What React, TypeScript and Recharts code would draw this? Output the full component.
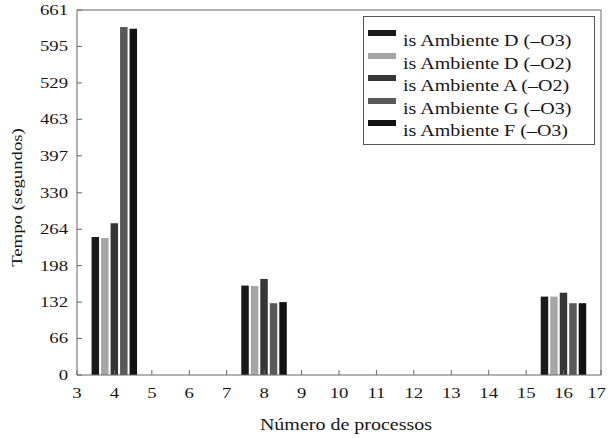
import { BarChart, Bar, XAxis, YAxis, ReferenceLine } from 'recharts';

const processos = [4, 8, 16];
const ambienteD_O3 = [250, 162, 142];
const ambienteD_O2 = [248, 161, 142];
const ambienteA_O2 = [275, 174, 149];
const ambienteG_O3 = [630, 130, 130];
const ambienteF_O3 = [627, 132, 130];

const seriesNames = [
	'is Ambiente D (–O3)',
	'is Ambiente D (–O2)',
	'is Ambiente A (–O2)',
	'is Ambiente G (–O3)',
	'is Ambiente F (–O3)',
];
const seriesValues = [ambienteD_O3, ambienteD_O2, ambienteA_O2, ambienteG_O3, ambienteF_O3];
const seriesColors = ['#1a1a1a', '#a6a6a6', '#363636', '#595959', '#121212'];

const xTicks = [3, 4, 5, 6, 7, 8, 9, 10, 11, 12, 13, 14, 15, 16, 17];
const yTicks = [0, 66, 132, 198, 264, 330, 397, 463, 529, 595, 661];

const data = processos.map((p, i) => {
	const row: Record<string, number> = { processos: p };
	seriesValues.forEach((vals, s) => {
		row[`s${s}`] = vals[i];
	});
	return row;
});

const font = '"Liberation Serif", "Times New Roman", serif';
const axisColor = '#666';
const textColor = '#161616';
const stretch = 1.25;

// scanned text is wider than Times; stretch it horizontally around its anchor
function WideText({ x, y, anchor, size, children, rotate }: any) {
	const t = rotate
		? `rotate(-90, ${x}, ${y}) translate(${x}, ${y}) scale(${stretch}, 1) translate(${-x}, ${-y})`
		: `translate(${x}, ${y}) scale(${stretch}, 1) translate(${-x}, ${-y})`;
	return (
		<text
			x={x}
			y={y}
			transform={t}
			textAnchor={anchor}
			dominantBaseline="central"
			fill={textColor}
			fontSize={size}
			fontFamily={font}
		>
			{children}
		</text>
	);
}

const XTick = ({ x, y, payload }: any) => {
	// last label would run past the page edge, so pin its right side
	const last = payload.value === xTicks[xTicks.length - 1];
	return (
		<WideText x={last ? 606 : x} y={y + 23} anchor={last ? 'end' : 'middle'} size={15}>
			{payload.value}
		</WideText>
	);
};

const YTick = ({ x, y, payload }: any) => (
	<WideText x={x - 14} y={y} anchor="end" size={15}>
		{payload.value}
	</WideText>
);

export default function App() {
	return (
		<div style={{ position: 'absolute', left: 0, top: 0, width: 608, height: 438, background: '#fff' }}>
			<BarChart
				width={608}
				height={438}
				data={data}
				margin={{ top: 10, right: 7, left: 0, bottom: 0 }}
				barSize={7.5}
				barGap={2}
			>
				<XAxis
					dataKey="processos"
					type="number"
					domain={[3, 17]}
					ticks={xTicks}
					interval={0}
					height={63}
					stroke={axisColor}
					tickSize={-5}
					tickMargin={0}
					tick={<XTick />}
					label={{
						content: ({ viewBox }: any) => (
							<WideText x={viewBox.x + viewBox.width / 2 + 7} y={viewBox.y + 50} anchor="middle" size={16}>
								Número de processos
							</WideText>
						),
					}}
				/>
				<YAxis
					type="number"
					domain={[0, 661]}
					ticks={yTicks}
					interval={0}
					width={77}
					stroke={axisColor}
					tickSize={-5}
					tickMargin={0}
					tick={<YTick />}
					label={{
						content: ({ viewBox }: any) => (
							<WideText
								x={viewBox.x + 17}
								y={viewBox.y + viewBox.height / 2 + 5}
								anchor="middle"
								size={15}
								rotate
							>
								Tempo (segundos)
							</WideText>
						),
					}}
				/>
				<ReferenceLine y={661} stroke={axisColor} />
				<ReferenceLine x={17} stroke={axisColor} />
				{seriesNames.map((name, s) => (
					<Bar
						key={name}
						dataKey={`s${s}`}
						name={name}
						fill={seriesColors[s]}
						isAnimationActive={false}
					/>
				))}
			</BarChart>
			<div
				style={{
					position: 'absolute',
					left: 363,
					top: 16,
					width: 232,
					height: 129,
					boxSizing: 'border-box',
					border: '1px solid #555',
					background: '#fff',
					padding: '13px 0 0 4px',
					fontFamily: font,
					fontSize: 16,
					color: textColor,
				}}
			>
				{seriesNames.map((name, s) => (
					<div key={name} style={{ position: 'relative', height: 22.5, lineHeight: '22.5px' }}>
						<span
							style={{
								position: 'absolute',
								left: 0,
								top: 0,
								width: 28,
								height: 6,
								background: seriesColors[s],
							}}
						/>
						<span
							style={{
								position: 'absolute',
								left: 35,
								top: 0,
								whiteSpace: 'nowrap',
								transform: `scaleX(${stretch})`,
								transformOrigin: 'left center',
							}}
						>
							{name}
						</span>
					</div>
				))}
			</div>
		</div>
	);
}
